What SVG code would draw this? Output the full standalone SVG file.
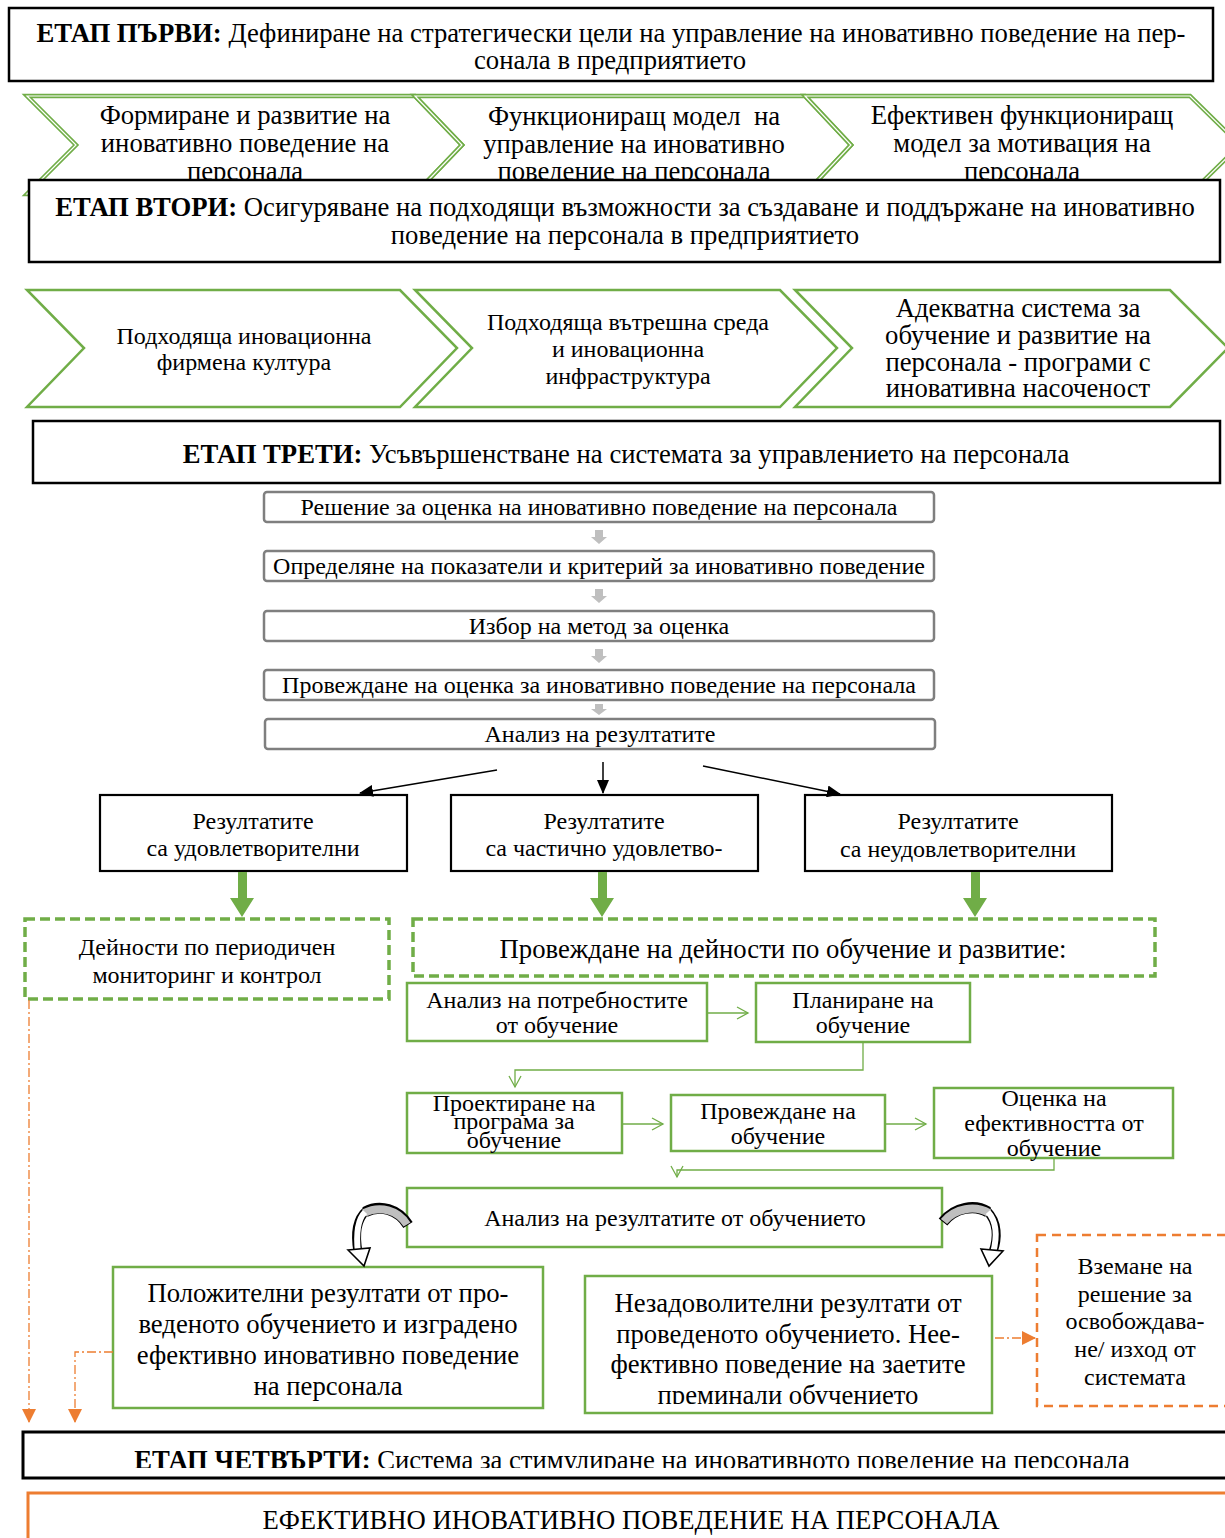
<svg xmlns="http://www.w3.org/2000/svg" width="1225" height="1538" viewBox="0 0 1225 1538">
<style>
text{font-family:"Liberation Serif","Times New Roman",serif;fill:#000;}
.stage{fill:#fff;stroke:#000;stroke-width:2.5;}
.chev{fill:#fff;stroke:#70AD47;stroke-width:2.5;stroke-linejoin:miter;}
.chev2{fill:none;stroke:#70AD47;stroke-width:4.5;}
.chev2w{fill:none;stroke:#fff;stroke-width:1.2;}
.gbox{fill:#fff;stroke:#7F7F7F;stroke-width:2.5;}
.res{fill:#fff;stroke:#000;stroke-width:2.2;}
.gdash{fill:#fff;stroke:#70AD47;stroke-width:3.5;stroke-dasharray:10 5;}
.gsol{fill:#fff;stroke:#70AD47;stroke-width:2.5;}
.odash{fill:#fff;stroke:#ED7D31;stroke-width:2.5;stroke-dasharray:9 6;}
.gline{fill:none;stroke:#70AD47;stroke-width:1.3;}
.oline{fill:none;stroke:#ED7D31;stroke-width:1.3;stroke-dasharray:9 3 2 3;}
.bline{fill:none;stroke:#000;stroke-width:1.5;}
.L{font-size:26.7px;}
.S{font-size:24px;}
.c{text-anchor:middle;}
.cb{fill:none;stroke:#000;}
</style>
<defs>
<marker id="gOpen" markerWidth="14" markerHeight="14" refX="12" refY="7" orient="auto" markerUnits="userSpaceOnUse">
<path d="M1,1 L12,7 L1,13" fill="none" stroke="#70AD47" stroke-width="1.3"/>
</marker>
<marker id="bArr" markerWidth="14" markerHeight="12" refX="13" refY="6" orient="auto" markerUnits="userSpaceOnUse">
<path d="M0,0 L14,6 L0,12 Z" fill="#000"/>
</marker>
<marker id="oArr" markerWidth="14" markerHeight="14" refX="13" refY="7" orient="auto" markerUnits="userSpaceOnUse">
<path d="M0,0 L14,7 L0,14 Z" fill="#ED7D31"/>
</marker>
<clipPath id="clipNez"><rect x="585" y="1276" width="408" height="128"/></clipPath>
<clipPath id="clipS4"><rect x="23" y="1432" width="1202" height="36"/></clipPath>
</defs>

<!-- Stage 1 -->
<g id="stage1">
<rect class="stage" x="9" y="8" width="1204" height="73"/>
<text class="L c" x="611" y="42"><tspan font-weight="bold">ЕТАП ПЪРВИ:</tspan> Дефиниране на стратегически цели на управление на иновативно поведение на пер-</text>
<text class="L c" x="610" y="69">сонала в предприятието</text>
</g>

<!-- Chevron row 1 -->
<g id="chev1a">
<polygon class="chev2" points="27,96 415,96 462,145 415,194 27,194 76,145"/>
<polygon class="chev2w" points="27,96 415,96 462,145 415,194 27,194 76,145"/>
<text class="L c" x="245" y="124">Формиране и развитие на</text>
<text class="L c" x="245" y="152">иновативно поведение на</text>
<text class="L c" x="245" y="180">персонала</text>
</g>
<g id="chev1b">
<polygon class="chev2" points="415,96 805,96 851,145 805,194 415,194 462,145"/>
<polygon class="chev2w" points="415,96 805,96 851,145 805,194 415,194 462,145"/>
<text class="L c" x="634" y="125">Функциониращ модел&#160; на</text>
<text class="L c" x="634" y="153">управление на иновативно</text>
<text class="L c" x="634" y="180">поведение на персонала</text>
</g>
<g id="chev1c">
<polygon class="chev2" points="805,96 1190,96 1240,145 1190,194 805,194 851,145"/>
<polygon class="chev2w" points="805,96 1190,96 1240,145 1190,194 805,194 851,145"/>
<text class="L c" x="1022" y="124">Ефективен функциониращ</text>
<text class="L c" x="1022" y="152">модел за мотивация на</text>
<text class="L c" x="1022" y="180">персонала</text>
</g>

<!-- Stage 2 -->
<g id="stage2">
<rect class="stage" x="29" y="180" width="1191" height="82"/>
<text class="L c" x="625" y="216"><tspan font-weight="bold">ЕТАП ВТОРИ:</tspan> Осигуряване на подходящи възможности за създаване и поддържане на иновативно</text>
<text class="L c" x="625" y="244">поведение на персонала в предприятието</text>
</g>

<!-- Chevron row 2 -->
<g id="chev2a">
<polygon class="chev" points="27,290 400,290 457,348 400,407 27,407 84,348"/>
<text class="S c" x="244" y="344">Подходяща иновационна</text>
<text class="S c" x="244" y="370">фирмена култура</text>
</g>
<g id="chev2b">
<polygon class="chev" points="415,290 780,290 837,348 780,407 415,407 472,348"/>
<text class="S c" x="628" y="330">Подходяща вътрешна среда</text>
<text class="S c" x="628" y="357">и иновационна</text>
<text class="S c" x="628" y="384">инфраструктура</text>
</g>
<g id="chev2c">
<polygon class="chev" points="795,290 1170,290 1228,348 1170,407 795,407 852,348"/>
<text class="L c" x="1018" y="317">Адекватна система за</text>
<text class="L c" x="1018" y="344">обучение и развитие на</text>
<text class="L c" x="1018" y="371">персонала - програми с</text>
<text class="L c" x="1018" y="397">иновативна насоченост</text>
</g>

<!-- Stage 3 -->
<g id="stage3">
<rect class="stage" x="33" y="421" width="1187" height="62"/>
<text class="L c" x="626" y="463"><tspan font-weight="bold">ЕТАП ТРЕТИ:</tspan> Усъвършенстване на системата за управлението на персонала</text>
</g>

<!-- Gray process boxes -->
<g id="p1"><rect class="gbox" x="264" y="492" width="670" height="30" rx="3"/><text class="S c" x="599" y="515">Решение за оценка на иновативно поведение на персонала</text></g>
<g id="p2"><rect class="gbox" x="264" y="551" width="670" height="30" rx="3"/><text class="S c" x="599" y="574">Определяне на показатели и критерий за иновативно поведение</text></g>
<g id="p3"><rect class="gbox" x="264" y="611" width="670" height="30" rx="3"/><text class="S c" x="599" y="634">Избор на метод за оценка</text></g>
<g id="p4"><rect class="gbox" x="264" y="670" width="670" height="30" rx="3"/><text class="S c" x="599" y="693">Провеждане на оценка за иновативно поведение на персонала</text></g>
<g id="p5"><rect class="gbox" x="265" y="719" width="670" height="30" rx="3"/><text class="S c" x="600" y="742">Анализ на резултатите</text></g>

<!-- Result boxes -->
<g id="r1"><rect class="res" x="100" y="795" width="307" height="76"/><text class="S c" x="253" y="829">Резултатите</text><text class="S c" x="253" y="856">са удовлетворителни</text></g>
<g id="r2"><rect class="res" x="451" y="795" width="307" height="76"/><text class="S c" x="604" y="829">Резултатите</text><text class="S c" x="604" y="856">са частично удовлетво-</text></g>
<g id="r3"><rect class="res" x="805" y="795" width="307" height="76"/><text class="S c" x="958" y="829">Резултатите</text><text class="S c" x="958" y="857">са неудовлетворителни</text></g>

<!-- Dashed green boxes -->
<g id="monitor"><rect class="gdash" x="25" y="919" width="364" height="80"/><text class="S c" x="207" y="955">Дейности по периодичен</text><text class="S c" x="207" y="983">мониторинг и контрол</text></g>
<g id="training"><rect class="gdash" x="413" y="919" width="742" height="57"/><text class="L c" x="783" y="958">Провеждане на дейности по обучение и развитие:</text></g>

<!-- Training steps -->
<g id="tA"><rect class="gsol" x="407" y="983" width="300" height="58"/><text class="S c" x="557" y="1008">Анализ на потребностите</text><text class="S c" x="557" y="1033">от обучение</text></g>
<g id="tB"><rect class="gsol" x="756" y="983" width="214" height="59"/><text class="S c" x="863" y="1008">Планиране на</text><text class="S c" x="863" y="1033">обучение</text></g>
<g id="tC"><rect class="gsol" x="407" y="1093" width="215" height="60"/><text class="S c" x="514" y="1111">Проектиране на</text><text class="S c" x="514" y="1129">програма за</text><text class="S c" x="514" y="1148">обучение</text></g>
<g id="tD"><rect class="gsol" x="671" y="1095" width="214" height="56"/><text class="S c" x="778" y="1119">Провеждане на</text><text class="S c" x="778" y="1144">обучение</text></g>
<g id="tE"><rect class="gsol" x="934" y="1088" width="239" height="70"/><text class="S c" x="1054" y="1106">Оценка на</text><text class="S c" x="1054" y="1131">ефективността от</text><text class="S c" x="1054" y="1156">обучение</text></g>
<g id="tF"><rect class="gsol" x="407" y="1188" width="535" height="59"/><text class="S c" x="675" y="1226">Анализ на резултатите от обучението</text></g>

<!-- Outcome boxes -->
<g id="pos"><rect class="gsol" x="113" y="1267" width="430" height="141"/>
<text class="L c" x="328" y="1302">Положителни резултати от про-</text>
<text class="L c" x="328" y="1333">веденото обучението и изградено</text>
<text class="L c" x="328" y="1364">ефективно иновативно поведение</text>
<text class="L c" x="328" y="1395">на персонала</text></g>
<g id="neg"><rect class="gsol" x="585" y="1276" width="407" height="137"/>
<g clip-path="url(#clipNez)">
<text class="L c" x="788" y="1312">Незадоволителни резултати от</text>
<text class="L c" x="788" y="1343">проведеното обучението. Нее-</text>
<text class="L c" x="788" y="1373">фективно поведение на заетите</text>
<text class="L c" x="788" y="1404">преминали обучението</text></g></g>
<g id="exit"><rect class="odash" x="1037" y="1235" width="200" height="171"/>
<text class="S c" x="1135" y="1274">Вземане на</text>
<text class="S c" x="1135" y="1302">решение за</text>
<text class="S c" x="1135" y="1329">освобождава-</text>
<text class="S c" x="1135" y="1357">не/ изход от</text>
<text class="S c" x="1135" y="1385">системата</text></g>

<!-- Stage 4 -->
<g id="stage4"><rect class="stage" x="23" y="1432" width="1210" height="46" style="stroke-width:3"/>
<g clip-path="url(#clipS4)"><text class="L c" x="632" y="1469"><tspan font-weight="bold">ЕТАП ЧЕТВЪРТИ:</tspan> Система за стимулиране на иновативното поведение на персонала</text></g></g>

<!-- Final -->
<g id="final"><rect x="28" y="1493" width="1210" height="60" fill="#fff" stroke="#ED7D31" stroke-width="3"/>
<text class="L c" x="631" y="1529">ЕФЕКТИВНО ИНОВАТИВНО ПОВЕДЕНИЕ НА ПЕРСОНАЛА</text></g>

<!-- Connectors -->
<g id="connectors">
<g fill="#BFBFBF">
<polygon points="595,530 603,530 603,537 607,537 599,544 591,537 595,537"/>
<polygon points="595,589 603,589 603,596 607,596 599,603 591,596 595,596"/>
<polygon points="595,649 603,649 603,656 607,656 599,663 591,656 595,656"/>
<polygon points="595,704 603,704 603,709 607,709 599,715 591,709 595,709"/>
</g>
<line class="bline" x1="497" y1="770" x2="360" y2="793" marker-end="url(#bArr)"/>
<line class="bline" x1="603" y1="762" x2="603" y2="793" marker-end="url(#bArr)"/>
<line class="bline" x1="703" y1="766" x2="840" y2="794" marker-end="url(#bArr)"/>
<g fill="#70AD47">
<polygon points="238,872 247,872 247,898 254,898 242,917 230,898 238,898"/>
<polygon points="598,872 607,872 607,898 614,898 602,917 590,898 598,898"/>
<polygon points="971,872 980,872 980,898 987,898 975,917 963,898 971,898"/>
</g>
<line class="gline" x1="707" y1="1013" x2="748" y2="1013" marker-end="url(#gOpen)"/>
<polyline class="gline" points="863,1042 863,1070 515,1070 515,1087" marker-end="url(#gOpen)"/>
<line class="gline" x1="622" y1="1124" x2="663" y2="1124" marker-end="url(#gOpen)"/>
<line class="gline" x1="885" y1="1124" x2="926" y2="1124" marker-end="url(#gOpen)"/>
<polyline class="gline" points="1054,1158 1054,1170 677,1170 677,1177" marker-end="url(#gOpen)"/>
<!-- curved arrow left -->
<path class="cb" stroke-width="11" d="M 408 1225 C 398 1209, 380 1204, 365 1212"/>
<path class="cb" stroke-width="9" d="M 366 1211 C 356 1220, 355 1235, 358 1252"/>
<path d="M 407 1224.5 C 398 1210, 380 1205, 364 1213" fill="none" stroke="#BFBFBF" stroke-width="8"/>
<path d="M 365 1212 C 357 1220, 356 1235, 358 1253" fill="none" stroke="#fff" stroke-width="6"/>
<polygon points="348,1250 370,1248 364,1266" fill="#fff" stroke="#000" stroke-width="1.6" stroke-linejoin="miter"/>
<!-- curved arrow right -->
<path class="cb" stroke-width="11" d="M 943 1222 C 955 1207, 975 1204, 988 1212"/>
<path class="cb" stroke-width="9" d="M 987 1211 C 998 1222, 998 1238, 993 1252"/>
<path d="M 944 1221.5 C 955 1208, 975 1205, 989 1213" fill="none" stroke="#BFBFBF" stroke-width="8"/>
<path d="M 988 1212 C 997 1222, 997 1238, 993 1253" fill="none" stroke="#fff" stroke-width="6"/>
<polygon points="981,1249 1003,1251 989,1266" fill="#fff" stroke="#000" stroke-width="1.6" stroke-linejoin="miter"/>
<line class="oline" x1="29" y1="1000" x2="29" y2="1422" marker-end="url(#oArr)"/>
<polyline class="oline" points="113,1352 75,1352 75,1422" marker-end="url(#oArr)"/>
<line class="oline" x1="995" y1="1338" x2="1035" y2="1338" marker-end="url(#oArr)"/>
</g>
</svg>
